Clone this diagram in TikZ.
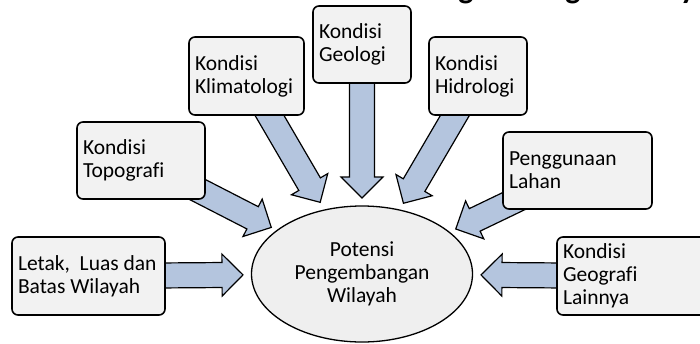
\documentclass[tikz,border=0pt]{standalone}
\usepackage{fontspec}
\setmainfont{Carlito}[Ligatures=NoCommon]
\usetikzlibrary{shapes.geometric,calc}
\definecolor{boxfill}{HTML}{F2F2F2}
\definecolor{ellfill}{HTML}{EFEFEF}
\definecolor{arrfill}{HTML}{B4C5DE}
\pgfdeclarelayer{bg}
\pgfsetlayers{bg,main}
\newcommand{\fatarrow}[3]{%
  \path ($(#2.center)!#3!(#1.center)$) coordinate (fa-tip)
        ($(fa-tip)!21pt!(#1.center)$) coordinate (fa-base);
  \filldraw[blockarrow]
    ($(#1.center)!12.5pt!90:(fa-tip)$) --
    ($(fa-base)!12.5pt!90:(fa-tip)$) --
    ($(fa-base)!21pt!90:(fa-tip)$) --
    (fa-tip) --
    ($(fa-base)!21pt!-90:(fa-tip)$) --
    ($(fa-base)!12.5pt!-90:(fa-tip)$) --
    ($(#1.center)!12.5pt!-90:(fa-tip)$) -- cycle;
}
\begin{document}
\begin{tikzpicture}[x=1pt,y=-1pt,
  infobox/.style={draw=black, line width=1.6pt, fill=boxfill, rounded corners=6pt,
    align=flush left, inner xsep=6pt, inner ysep=0pt,
    font=\fontsize{21.5}{23}\selectfont},
  centrebox/.style={ellipse, draw=black, line width=1.3pt, fill=ellfill,
    minimum width=221pt, minimum height=136pt, inner sep=0pt, align=center,
    font=\fontsize{21.5}{23}\selectfont},
  blockarrow/.style={fill=arrfill, draw=black, line width=1.2pt, line join=miter},
  titletext/.style={font=\bfseries\fontsize{32}{32}\selectfont, inner sep=0pt}
]
\useasboundingbox (0,0) rectangle (700,343);
\clip (0,0) rectangle (700,343);

\node[titletext, anchor=base east] (title) at (728,-2) {Faktor Penentu Potensi Pengembangan Wilayah};

\node[centrebox] (E) at (362,274) {Potensi\\Pengembangan\\Wilayah};

\node[infobox, text width=141pt, minimum height=78pt] (letak) at (88.5,276) {Letak,\ \ Luas dan\\Batas Wilayah};
\node[infobox, text width=116pt, minimum height=77pt] (topo) at (141,160.5) {Kondisi\\Topografi};
\node[infobox, text width=103pt, minimum height=78pt] (klim) at (246.5,76) {Kondisi\\Klimatologi};
\node[infobox, text width=86pt, minimum height=77pt] (geol) at (362,44.5) {Kondisi\\Geologi};
\node[infobox, text width=86pt, minimum height=78pt] (hidro) at (478,76) {Kondisi\\Hidrologi};
\node[infobox, text width=137pt, minimum height=77pt] (lahan) at (577.5,170.5) {Penggunaan\\Lahan};
\node[infobox, text width=141pt, minimum height=78pt] (lain) at (633.5,276) {Kondisi\\Geografi\\Lainnya};

\begin{pgfonlayer}{bg}
\fatarrow{letak}{E}{119pt}
\fatarrow{topo}{E}{102pt}
\fatarrow{klim}{E}{83pt}
\fatarrow{geol}{E}{76pt}
\fatarrow{hidro}{E}{82pt}
\fatarrow{lahan}{E}{104pt}
\fatarrow{lain}{E}{119pt}
\end{pgfonlayer}
\end{tikzpicture}
\end{document}
